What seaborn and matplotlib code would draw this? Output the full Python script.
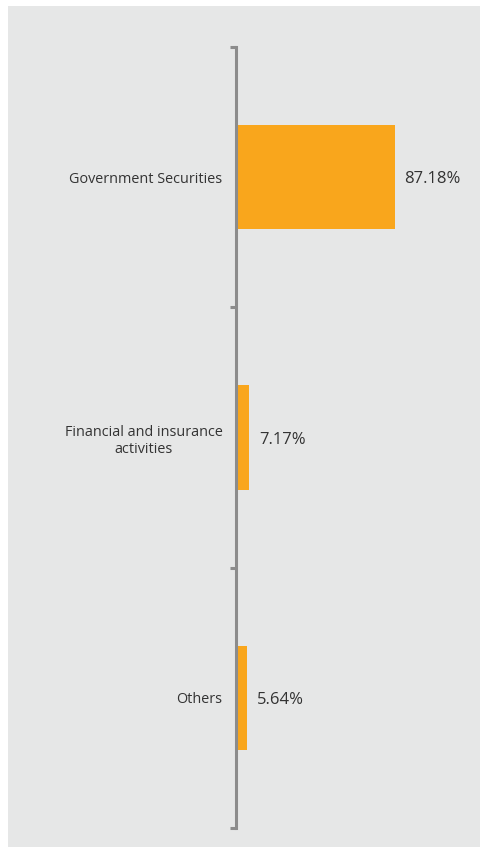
import matplotlib
matplotlib.use("Agg")
import matplotlib.pyplot as plt
import seaborn as sns
import pandas as pd
from matplotlib.patches import Rectangle

categories = ["Government Securities", "Financial and insurance\nactivities", "Others"]
values = [87.18, 7.17, 5.64]
value_labels = ["87.18%", "7.17%", "5.64%"]

sns.set_theme(style="white")
plt.rcParams['font.family'] = ['Open Sans', 'DejaVu Sans']

W, H = 481, 847
fig = plt.figure(figsize=(W / 100, H / 100), dpi=100, facecolor="white")
fig.patches.append(Rectangle((8 / W, 0), 1.0, 1 - 6 / H, transform=fig.transFigure,
                             facecolor="#e6e7e7", edgecolor="none", zorder=-10))

left, right, top, bottom = 236.5, 470, 47, 828
ax = fig.add_axes([left / W, 1 - bottom / H, (right - left) / W, (bottom - top) / H])
ax.set_facecolor("none")

df = pd.DataFrame({"category": categories, "value": values})
sns.barplot(data=df, x="value", y="category", orient="h", color="#f9a61c",
            saturation=1, width=0.4, linewidth=0, ax=ax)

ax.set_xlim(0, (right - left) / 1.813)
ax.set_ylim(2.5, -0.5)
ax.set_xlabel("")
ax.set_ylabel("")
ax.set_xticks([])

for s in ["top", "right", "bottom"]:
    ax.spines[s].set_visible(False)
ax.spines["left"].set_color("#8c8c8c")
ax.spines["left"].set_linewidth(2.2)

ax.set_yticks([0, 1, 2])
ax.set_yticklabels(categories, fontsize=10.4, color="#333333", multialignment="center")
ax.tick_params(axis="y", which="major", length=0, pad=10)
ax.set_yticks([-0.5, 0.5, 1.5, 2.5], minor=True)
ax.tick_params(axis="y", which="minor", length=4, width=2.2, color="#8c8c8c", left=True)

for i, (v, lab) in enumerate(zip(values, value_labels)):
    ax.annotate(lab, xy=(v, i), xytext=(7.2, -1.5), textcoords="offset points",
                ha="left", va="center", fontsize=12, color="#333333")

fig.savefig("out.png", dpi=100, facecolor=fig.get_facecolor())
